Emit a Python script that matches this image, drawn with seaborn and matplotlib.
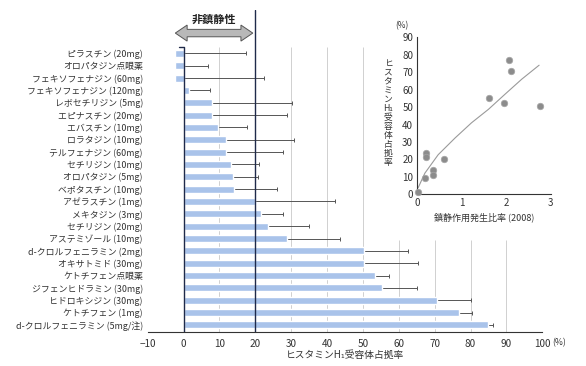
import numpy as np
import pandas as pd
import seaborn as sns
import matplotlib.pyplot as plt
from matplotlib.patches import Polygon

# main chart: H1 receptor occupancy per drug (%), bar = mean, line = upper error
drugs = [
    "ピラスチン (20mg)", "オロパタジン点眼薬", "フェキソフェナジン (60mg)",
    "フェキソフェナジン (120mg)", "レボセチリジン (5mg)", "エピナスチン (20mg)",
    "エバスチン (10mg)", "ロラタジン (10mg)", "テルフェナジン (60mg)",
    "セチリジン (10mg)", "オロパタジン (5mg)", "ベポタスチン (10mg)",
    "アゼラスチン (1mg)", "メキタジン (3mg)", "セチリジン (20mg)",
    "アステミゾール (10mg)", "d-クロルフェニラミン (2mg)", "オキサトミド (30mg)",
    "ケトチフェン点眼薬", "ジフェンヒドラミン (30mg)", "ヒドロキシジン (30mg)",
    "ケトチフェン (1mg)", "d-クロルフェニラミン (5mg/注)",
]
occupancy = [-2.3, -2.3, -2.3, 1.6, 7.9, 7.9, 9.6, 11.8, 11.8, 13.3, 13.7, 14.2,
             19.8, 21.6, 23.5, 28.7, 50.2, 50.2, 53.5, 55.3, 70.6, 76.9, 84.8]
upper = [17.3, 6.9, 22.5, 7.4, 30.1, 28.8, 17.7, 30.9, 27.6, 21.1, 20.7, 26.0,
         42.3, 27.8, 35.0, 43.5, 62.5, 65.4, 57.4, 65.0, 80.0, 80.4, 86.3]
xticks = [-10, 0, 10, 20, 30, 40, 50, 60, 70, 80, 90, 100]

# inset: sedation ratio vs occupancy
ratio = [0.02, 0.17, 0.19, 0.19, 0.35, 0.35, 0.6, 1.61, 1.96, 2.06, 2.11, 2.76]
h1occ = [1.3, 9.2, 23.5, 21.5, 13.7, 11.0, 20.2, 55.2, 52.3, 77.1, 70.8, 50.4]
curve_x = [0.02, 0.17, 0.47, 0.85, 1.22, 1.6, 1.97, 2.35, 2.74]
curve_y = [3.8, 12.1, 22.7, 32.3, 41.0, 48.7, 57.3, 66.0, 74.0]

df = pd.DataFrame({"drug": drugs, "occ": occupancy, "upper": upper})

sns.set_style("white")
plt.rcParams["font.family"] = ["Noto Sans CJK JP", "DejaVu Sans"]
txt = "#333333"
navy = "#1f2a4a"

fig = plt.figure(figsize=(5.86, 3.66), dpi=100)
ax = fig.add_axes([0.252, 0.0929, 0.6734, 0.8798])

# grid lines (the ones behind the inset are cut short)
top_idx, bot_idx = -0.51, 22.57
for g in [10, 30, 40, 50]:
    ax.vlines(g, top_idx, bot_idx, color="#c9c9c9", lw=0.6, zorder=0.5)
for g in [60, 70, 80, 90]:
    ax.vlines(g, 15.1, bot_idx, color="#c9c9c9", lw=0.6, zorder=0.5)

sns.barplot(data=df, x="occ", y="drug", orient="h", width=0.57,
            color="#a9c3ea", saturation=1, errorbar=None, ax=ax, zorder=2)

ypos = np.arange(len(drugs))
ax.hlines(ypos, df["occ"], df["upper"], color="#555555", lw=0.7, zorder=1)
ax.plot(df["upper"], ypos, ls="none", marker="|", ms=3.5, mew=0.7,
        color="#555555", zorder=1)

# zero line and 20% sedation threshold
ax.plot([-1.3, 0, 0], [top_idx, top_idx, bot_idx], color=navy, lw=1.0, zorder=3)
ax.axvline(20, color=navy, lw=1.0, zorder=3)

ax.set_xlim(-10, 100)
ax.set_ylim(bot_idx, -3.51)
ax.set_xticks(xticks)
ax.tick_params(axis="x", direction="out", length=3, width=0.7, pad=2,
               labelsize=7.2, colors=txt)
ax.tick_params(axis="y", length=0, pad=3.4, labelsize=6.4, colors=txt)
for s in ["top", "right", "left"]:
    ax.spines[s].set_visible(False)
ax.spines["bottom"].set_color(txt)
ax.spines["bottom"].set_linewidth(0.8)
ax.set_xlabel("ヒスタミンH₁受容体占拠率", fontsize=7, color=txt, labelpad=1)
ax.set_ylabel("")
ax.text(102.9, -0.019, "(%)", transform=ax.get_xaxis_transform(),
        fontsize=6.2, color=txt, va="top", ha="left")

# double arrow "non-sedating"
x0, x1, yc, hh, sh, hl = -2.3, 19.3, -1.64, 0.65, 0.3, 3.3
pts = [(x0, yc), (x0 + hl, yc - hh), (x0 + hl, yc - sh), (x1 - hl, yc - sh),
       (x1 - hl, yc - hh), (x1, yc), (x1 - hl, yc + hh), (x1 - hl, yc + sh),
       (x0 + hl, yc + sh), (x0 + hl, yc + hh)]
ax.add_patch(Polygon(pts, closed=True, fc="#b8b8b8", ec="#555555", lw=0.7, zorder=3))
ax.text(8.5, -2.72, "非鎮静性", ha="center", va="center", fontsize=8,
        fontweight="bold", color="#222222")

# inset scatter
ax2 = fig.add_axes([0.7121, 0.4691, 0.2276, 0.4290])
ax2.patch.set_alpha(0)
sns.lineplot(x=curve_x, y=curve_y, ax=ax2, color="#9a9a9a", lw=0.8, sort=False)
sns.scatterplot(x=ratio, y=h1occ, ax=ax2, s=22, color="#8c8c8c",
                edgecolor="#a6a6a6", linewidth=0.5, clip_on=False, zorder=3)
ax2.set_xlim(0, 3)
ax2.set_ylim(0, 90)
ax2.set_xticks([0, 1, 2, 3])
ax2.set_yticks(range(0, 91, 10))
ax2.tick_params(direction="inout", length=3, width=0.7, pad=1.5,
                labelsize=7, colors=txt)
for s in ["top", "right"]:
    ax2.spines[s].set_visible(False)
for s in ["left", "bottom"]:
    ax2.spines[s].set_color(txt)
    ax2.spines[s].set_linewidth(0.8)
ax2.set_xlabel("鎮静作用発生比率 (2008)", fontsize=6.5, color=txt, labelpad=3)
ax2.set_ylabel("")

vlabel = "\n".join(["ヒ", "ス", "タ", "ミ", "ン", "H₁", "受", "容", "体", "占", "拠", "率"])
fig.text(388 / 586, 1 - 113 / 366, vlabel, ha="center", va="center",
         fontsize=6.3, linespacing=1.0, color=txt)
fig.text(402 / 586, 1 - 26 / 366, "(%)", ha="center", va="center",
         fontsize=6, color=txt)

fig.savefig("out.png", dpi=100)
